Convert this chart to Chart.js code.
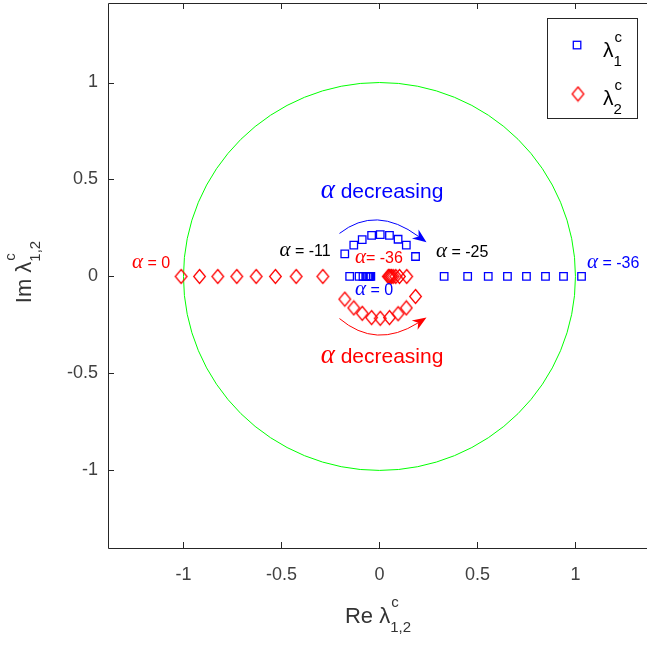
<!DOCTYPE html>
<html lang="en">
<head>
  <meta charset="UTF-8" />
  <script src="https://cdn.jsdelivr.net/npm/chart.js@4.4.0/dist/chart.umd.min.js"></script>
  <style>
    html, body { margin: 0; padding: 0; background: #fff; }
  </style>
</head>
<body>
  <canvas id="locus" width="647" height="645"></canvas>
  <script>
    // lambda_1 (blue squares): real cluster near 0, upper arc, then real points to the right
    const lam1Re = [-0.152, -0.104, -0.084, -0.070, -0.061, -0.054, -0.049, -0.044,
      -0.177, -0.131, -0.088, -0.040, 0.004, 0.051, 0.095, 0.137, 0.184,
      0.330, 0.450, 0.555, 0.653, 0.750, 0.847, 0.939, 1.031];
    const lam1Im = [0, 0, 0, 0, 0, 0, 0, 0,
      0.117, 0.162, 0.190, 0.212, 0.216, 0.212, 0.192, 0.162, 0.103,
      0, 0, 0, 0, 0, 0, 0, 0];
    // lambda_2 (red diamonds): real points on the left, lower arc, then real cluster near 0
    const lam2Re = [-1.012, -0.918, -0.825, -0.728, -0.629, -0.531, -0.425, -0.289,
      -0.177, -0.131, -0.088, -0.040, 0.004, 0.051, 0.095, 0.137, 0.184,
      0.139, 0.102, 0.083, 0.070, 0.061, 0.054, 0.049, 0.045];
    const lam2Im = [0, 0, 0, 0, 0, 0, 0, 0,
      -0.117, -0.162, -0.190, -0.212, -0.216, -0.212, -0.192, -0.162, -0.103,
      0, 0, 0, 0, 0, 0, 0, 0];

    const xTicks = [-1, -0.5, 0, 0.5, 1];
    const yTicks = [-1, -0.5, 0, 0.5, 1];

    // text annotations, anchored in data coordinates (left/baseline unless centered)
    const notes = [
      { x: 0.013, y: 0.405, text: ' decreasing', color: '#0000ff', size: 21, center: true },
      { x: 0.013, y: -0.446, text: ' decreasing', color: '#ff0000', size: 21, center: true },
      { x: -0.51, y: 0.105, text: ' = -11', color: '#000000', size: 16 },
      { x: 0.288, y: 0.100, text: ' = -25', color: '#000000', size: 16 },
      { x: 1.059, y: 0.043, text: ' = -36', color: '#0000ff', size: 16 },
      { x: -1.263, y: 0.043, text: ' = 0', color: '#ff0000', size: 16 },
      { x: -0.125, y: 0.069, text: '= -36', color: '#ff0000', size: 16 },
      { x: -0.125, y: -0.096, text: ' = 0', color: '#0000ff', size: 16 }
    ];

    const SANS = '"Liberation Sans", Arial, sans-serif';
    const SERIF = '"Liberation Serif", "Times New Roman", serif';
    const AXIS_COL = '#262626';
    const TICK_COL = '#404040';

    // MATLAB style diamond is a bit taller than wide
    function makeDiamond(color) {
      const c = document.createElement('canvas');
      c.width = 15; c.height = 17;
      const g = c.getContext('2d');
      g.strokeStyle = color;
      g.lineWidth = 1.3;
      g.beginPath();
      g.moveTo(7.5, 1.5);
      g.lineTo(13.3, 8.5);
      g.lineTo(7.5, 15.5);
      g.lineTo(1.7, 8.5);
      g.closePath();
      g.stroke();
      return c;
    }
    const redDiamond = makeDiamond('#ff0000');

    function alphaText(ctx, x, y, rest, color, size, center) {
      const aFont = 'italic ' + Math.round(size * 1.3) + 'px ' + SERIF;
      const rFont = size + 'px ' + SANS;
      ctx.font = aFont;
      const wa = ctx.measureText('α').width;
      ctx.font = rFont;
      const wr = ctx.measureText(rest).width;
      let x0 = center ? x - (wa + wr) / 2 : x;
      ctx.fillStyle = color;
      ctx.textAlign = 'left';
      ctx.textBaseline = 'alphabetic';
      ctx.font = aFont;
      ctx.fillText('α', x0, y);
      ctx.font = rFont;
      ctx.fillText(rest, x0 + wa, y);
    }

    // "main" with superscript and subscript stacked after it, baseline at y
    function scriptLabel(ctx, x, y, main, sup, sub, size, center) {
      const small = Math.round(size * 0.7);
      ctx.font = size + 'px ' + SANS;
      const wm = ctx.measureText(main).width;
      ctx.font = small + 'px ' + SANS;
      const ws = Math.max(ctx.measureText(sup).width, ctx.measureText(sub).width);
      const x0 = center ? x - (wm + ws) / 2 : x;
      ctx.textAlign = 'left';
      ctx.textBaseline = 'alphabetic';
      ctx.font = size + 'px ' + SANS;
      ctx.fillText(main, x0, y);
      ctx.font = small + 'px ' + SANS;
      ctx.fillText(sup, x0 + wm + 1, y - size * 0.72);
      ctx.fillText(sub, x0 + wm, y + size * 0.42);
    }

    function curvedArrow(ctx, p0, c, p2, color) {
      const head = 14, halfW = 5.5;
      const ang = Math.atan2(p2.y - c.y, p2.x - c.x);
      const cs = Math.cos(ang), sn = Math.sin(ang);
      ctx.strokeStyle = color;
      ctx.fillStyle = color;
      ctx.lineWidth = 1;
      ctx.beginPath();
      ctx.moveTo(p0.x, p0.y);
      ctx.quadraticCurveTo(c.x, c.y, p2.x - head * 0.7 * cs, p2.y - head * 0.7 * sn);
      ctx.stroke();
      ctx.beginPath();
      ctx.moveTo(p2.x, p2.y);
      ctx.lineTo(p2.x - head * cs + halfW * sn, p2.y - head * sn - halfW * cs);
      ctx.lineTo(p2.x - head * 0.7 * cs, p2.y - head * 0.7 * sn);
      ctx.lineTo(p2.x - head * cs - halfW * sn, p2.y - head * sn + halfW * cs);
      ctx.closePath();
      ctx.fill();
    }

    const matlabLook = {
      id: 'matlabLook',
      beforeDatasetsDraw(chart) {
        const { ctx, scales: { x, y } } = chart;
        // unit circle
        const cx = x.getPixelForValue(0), cy = y.getPixelForValue(0);
        const rx = x.getPixelForValue(1) - cx, ry = cy - y.getPixelForValue(1);
        ctx.save();
        ctx.strokeStyle = '#00ff00';
        ctx.lineWidth = 1;
        ctx.beginPath();
        ctx.ellipse(cx, cy, rx, ry, 0, 0, 2 * Math.PI);
        ctx.stroke();
        ctx.restore();
      },
      afterDraw(chart) {
        const { ctx, chartArea: a, scales: { x, y } } = chart;
        const px = v => x.getPixelForValue(v), py = v => y.getPixelForValue(v);
        ctx.save();

        // axes box (left, bottom, top) with inward ticks; the right side is off the figure
        ctx.strokeStyle = AXIS_COL;
        ctx.lineWidth = 1;
        ctx.beginPath();
        ctx.moveTo(a.left + 0.5, a.top + 0.5);
        ctx.lineTo(a.left + 0.5, a.bottom + 0.5);
        ctx.lineTo(a.right, a.bottom + 0.5);
        ctx.moveTo(a.left + 0.5, a.top + 0.5);
        ctx.lineTo(a.right, a.top + 0.5);
        xTicks.forEach(v => {
          const X = Math.round(px(v)) + 0.5;
          ctx.moveTo(X, a.bottom); ctx.lineTo(X, a.bottom - 6);
          ctx.moveTo(X, a.top); ctx.lineTo(X, a.top + 6);
        });
        yTicks.forEach(v => {
          const Y = Math.round(py(v)) + 0.5;
          ctx.moveTo(a.left, Y); ctx.lineTo(a.left + 6, Y);
        });
        ctx.stroke();

        // tick labels
        ctx.fillStyle = TICK_COL;
        ctx.font = '18px ' + SANS;
        ctx.textBaseline = 'middle';
        ctx.textAlign = 'center';
        xTicks.forEach(v => ctx.fillText(String(v), px(v), a.bottom + 27));
        ctx.textAlign = 'right';
        yTicks.forEach(v => ctx.fillText(String(v), a.left - 10, py(v)));

        // curved arrows
        curvedArrow(ctx, { x: px(-0.204), y: py(0.222) }, { x: px(-0.018), y: py(0.369) },
          { x: px(0.24), y: py(0.176) }, '#0000ff');
        curvedArrow(ctx, { x: px(-0.204), y: py(-0.217) }, { x: px(-0.018), y: py(-0.376) },
          { x: px(0.24), y: py(-0.212) }, '#ff0000');

        // alpha annotations
        notes.forEach(n => alphaText(ctx, px(n.x), py(n.y), n.text, n.color, n.size, n.center));

        // legend
        ctx.fillStyle = '#ffffff';
        ctx.fillRect(547.5, 18.5, 90, 100);
        ctx.strokeStyle = AXIS_COL;
        ctx.lineWidth = 1;
        ctx.strokeRect(547.5, 18.5, 90, 100);
        ctx.strokeStyle = '#0000ff';
        ctx.lineWidth = 1.3;
        ctx.strokeRect(573.3, 41.3, 7.5, 7.5);
        ctx.drawImage(redDiamond, 578 - redDiamond.width / 2, 94 - redDiamond.height / 2);
        ctx.fillStyle = '#000000';
        scriptLabel(ctx, 603, 57, 'λ', 'c', '1', 21, false);
        scriptLabel(ctx, 603, 105, 'λ', 'c', '2', 21, false);

        // axis titles
        ctx.fillStyle = '#333333';
        scriptLabel(ctx, 378, 623, 'Re λ', 'c', '1,2', 22, true);
        ctx.translate(31, 272);
        ctx.rotate(-Math.PI / 2);
        scriptLabel(ctx, 0, 0, 'Im λ', 'c', '1,2', 22, true);
        ctx.restore();
      }
    };

    new Chart(document.getElementById('locus'), {
      type: 'scatter',
      data: {
        datasets: [
          {
            label: 'λ1',
            data: lam1Re.map((v, i) => ({ x: v, y: lam1Im[i] })),
            pointStyle: 'rect',
            pointRadius: 5.3,
            pointHoverRadius: 5.3,
            borderColor: '#0000ff',
            backgroundColor: 'rgba(0,0,0,0)',
            borderWidth: 1.3
          },
          {
            label: 'λ2',
            data: lam2Re.map((v, i) => ({ x: v, y: lam2Im[i] })),
            pointStyle: redDiamond,
            pointRadius: 6,
            pointHoverRadius: 6,
            borderColor: '#ff0000',
            backgroundColor: 'rgba(0,0,0,0)'
          }
        ]
      },
      options: {
        responsive: false,
        animation: false,
        devicePixelRatio: 1,
        events: [],
        layout: { autoPadding: false, padding: { top: 3, left: 0, right: 0, bottom: 0 } },
        plugins: { legend: { display: false }, tooltip: { enabled: false } },
        scales: {
          // labels are drawn by the plugin so the axes keep a fixed size
          x: {
            type: 'linear',
            min: -1.385,
            max: 1.365,
            grid: { display: false, drawTicks: false },
            border: { display: false },
            ticks: { display: false },
            afterFit: s => { s.height = 97; }
          },
          y: {
            type: 'linear',
            min: -1.4,
            max: 1.41,
            grid: { display: false, drawTicks: false },
            border: { display: false },
            ticks: { display: false },
            afterFit: s => { s.width = 108; }
          }
        }
      },
      plugins: [matlabLook]
    });
  </script>
</body>
</html>
